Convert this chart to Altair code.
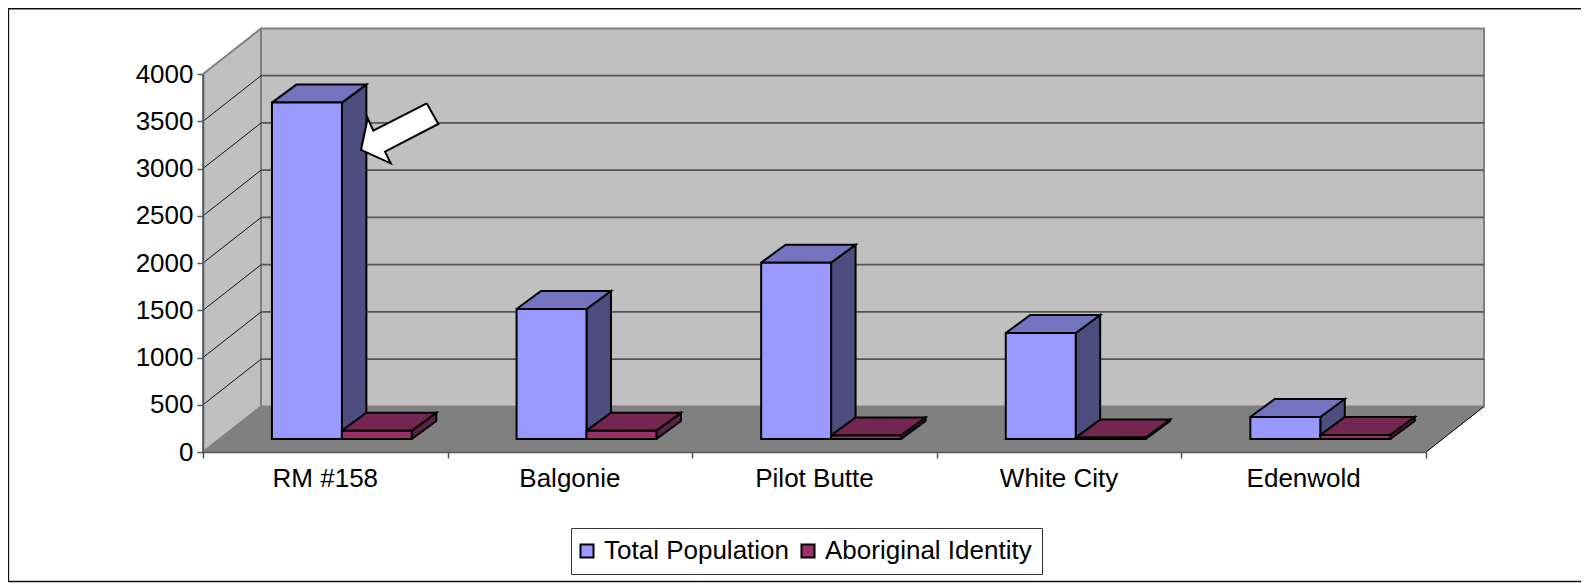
import altair as alt
import pandas as pd

categories = ["RM #158", "Balgonie", "Pilot Butte", "White City", "Edenwold"]
series = ["Total Population", "Aboriginal Identity"]
total_population = [3560, 1376, 1866, 1122, 233]
aboriginal_identity = [88, 88, 38, 15, 42]
y_ticks = [0, 500, 1000, 1500, 2000, 2500, 3000, 3500, 4000]
x_ticks = [0, 1, 2, 3, 4, 5]

front_colors = ["#9999FF", "#993366"]
top_colors = ["#7373BF", "#732650"]
side_colors = ["#4D4D80", "#5A2148"]

# projection of the pseudo-3D box, in axis units
WALL_DX, WALL_DY = 0.2371, 481.5
BAR_DX, BAR_DY = 0.1, 190.0
BASE_DX, BASE_DY = 0.0679, 137.6
BAR_W = 0.286

# annotation arrow, in axis units
arrow_x = [0.9146, 0.9620, 0.7441, 0.7674, 0.6460, 0.6733, 0.6962, 0.9146]
arrow_y = [3690, 3471, 3178, 3055, 3196, 3531, 3400, 3690]

# outer frame, in axis units
frame_x = [5.6700, -0.7955, -0.7955, 5.6700]
frame_y = [4690, 4690, -1370, -1370]

FONT = "Liberation Sans"
FS = 26
EDGE = 2

X_SCALE = alt.Scale(domain=[0, 5], nice=False, zero=False)
Y_SCALE = alt.Scale(domain=[0, 4000], nice=False, zero=False)
X_AXIS = alt.Axis(title=None, values=x_ticks, labels=False, grid=False,
                  domainColor="#555555", tickColor="#555555", domainWidth=1.5,
                  tickWidth=1.5, tickSize=6, zindex=1)
Y_AXIS = alt.Axis(title=None, values=y_ticks, grid=False, format="d",
                  labelFont=FONT, labelFontSize=FS, labelColor="#000000",
                  labelPadding=4, domainColor="#555555", tickColor="#555555",
                  domainWidth=1.5, tickWidth=1.5, tickSize=6, zindex=1)
XQ = alt.X("x:Q", scale=X_SCALE, axis=X_AXIS)
YQ = alt.Y("y:Q", scale=Y_SCALE, axis=Y_AXIS)


def polygon(xs, ys, fill, stroke, sw):
    df = pd.DataFrame({"x": xs, "y": ys, "o": range(len(xs))})
    return (
        alt.Chart(df)
        .mark_line(fill=fill, stroke=stroke, strokeWidth=sw, strokeJoin="miter", clip=False)
        .encode(x=XQ, y=YQ, order="o:Q")
    )


def segments(rows, stroke, sw):
    recs = []
    for i, (x0, y0, x1, y1) in enumerate(rows):
        recs.append({"x": x0, "y": y0, "k": i, "o": 0})
        recs.append({"x": x1, "y": y1, "k": i, "o": 1})
    return (
        alt.Chart(pd.DataFrame(recs))
        .mark_line(stroke=stroke, strokeWidth=sw)
        .encode(x=XQ, y=YQ, detail="k:N", order="o:Q")
    )


layers = []

# frame
layers.append(
    alt.Chart(pd.DataFrame({"x": frame_x, "y": frame_y, "o": range(len(frame_x))}))
    .mark_line(stroke="#111111", strokeWidth=1.5)
    .encode(x=XQ, y=YQ, order="o:Q")
)

# walls
top = y_ticks[-1]
layers.append(polygon([0, WALL_DX, WALL_DX, 0, 0], [top, top + WALL_DY, WALL_DY, 0, top], "#C0C0C0", "#808080", 2))
layers.append(polygon([WALL_DX, 5 + WALL_DX, 5 + WALL_DX, WALL_DX, WALL_DX],
                      [top + WALL_DY, top + WALL_DY, WALL_DY, WALL_DY, top + WALL_DY], "#C0C0C0", "#808080", 2))
layers.append(polygon([0, 5, 5 + WALL_DX, WALL_DX, 0], [0, 0, WALL_DY, WALL_DY, 0], "#808080", "#808080", 1))
layers.append(segments([(5, 0, 5 + WALL_DX, WALL_DY)], "#111111", 1))

# gridlines
layers.append(segments([(0, v, WALL_DX, v + WALL_DY) for v in y_ticks[1:-1]], "#111111", 1))
layers.append(segments([(WALL_DX, v + WALL_DY, 5 + WALL_DX, v + WALL_DY) for v in y_ticks[1:-1]], "#555555", 1.75))

# bars
color = alt.Color(
    "series:N",
    scale=alt.Scale(domain=series, range=front_colors),
    legend=alt.Legend(
        title=None, orient="none", legendX=368, legendY=454, direction="horizontal", columns=2,
        fillColor="#FFFFFF", strokeColor="#333333", padding=10,
        labelFont=FONT, labelFontSize=FS, labelColor="#000000",
        labelLimit=400, labelOffset=4, columnPadding=7, symbolOffset={"expr": "-7"},
        symbolType="square", symbolSize=170, symbolStrokeColor="#000000", symbolStrokeWidth=EDGE,
    ),
)

for c, cat in enumerate(categories):
    for s, values in enumerate([total_population, aboriginal_identity]):
        v = values[c]
        centre = c + 0.5 + BASE_DX
        x0 = centre - BAR_W if s == 0 else centre
        x1 = x0 + BAR_W
        y0, y1 = BASE_DY, BASE_DY + v
        layers.append(polygon([x1, x1 + BAR_DX, x1 + BAR_DX, x1, x1],
                              [y0, y0 + BAR_DY, y1 + BAR_DY, y1, y0], side_colors[s], "#000000", EDGE))
        layers.append(polygon([x0, x1, x1 + BAR_DX, x0 + BAR_DX, x0],
                              [y1, y1, y1 + BAR_DY, y1 + BAR_DY, y1], top_colors[s], "#000000", EDGE))
        front = pd.DataFrame({"x": [x0], "x2": [x1], "y": [y0], "y2": [y1], "series": [series[s]]})
        layers.append(
            alt.Chart(front)
            .mark_bar(stroke="#000000", strokeWidth=EDGE)
            .encode(x=XQ, x2="x2:Q", y=YQ, y2="y2:Q", color=color)
        )

# category labels
label_df = pd.DataFrame({"x": [i + 0.5 for i in range(len(categories))], "y": [0] * len(categories), "t": categories})
layers.append(
    alt.Chart(label_df)
    .mark_text(font=FONT, fontSize=FS, color="#000000", baseline="alphabetic", dy=35)
    .encode(x=XQ, y=YQ, text="t:N")
)

# arrow
layers.append(polygon(arrow_x, arrow_y, "#FFFFFF", "#000000", EDGE))

chart = (
    alt.layer(*layers)
    .properties(
        width=1223, height=378,
        padding={"left": 195, "top": 66, "right": 155, "bottom": 131},
        autosize=alt.AutoSizeParams(type="none"),
        background="#FFFFFF",
    )
    .configure_view(stroke=None)
)

chart.save("out.html", embed_options={"renderer": "svg", "actions": False})
